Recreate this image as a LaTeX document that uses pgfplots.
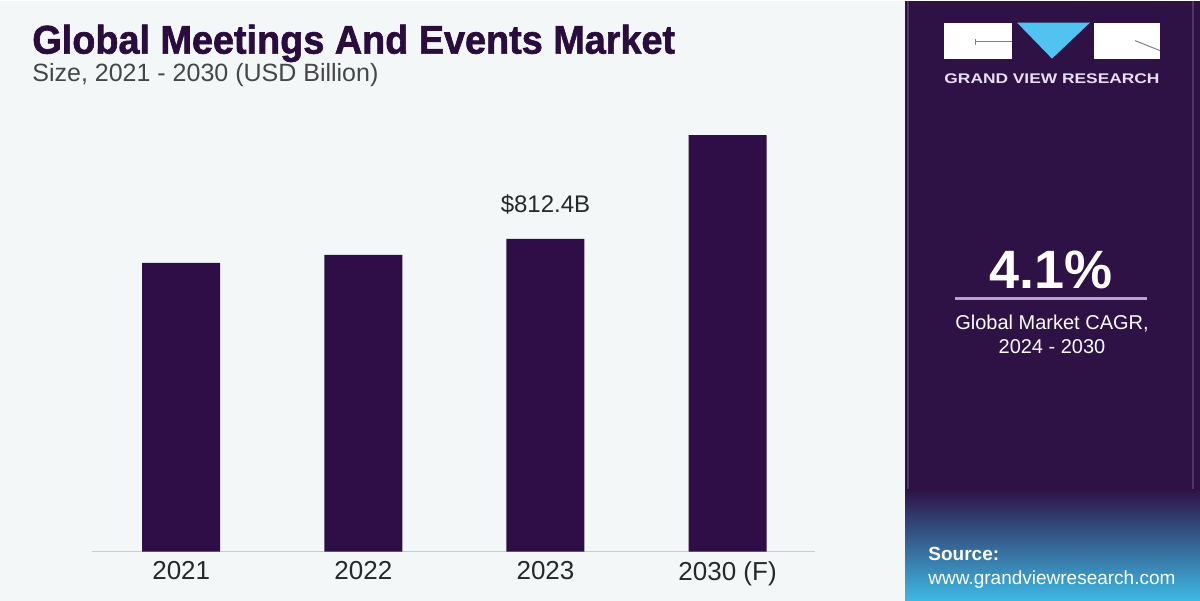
\documentclass[border=0pt]{standalone}
\usepackage{pgfplots}
\pgfplotsset{compat=1.18}
\usepackage{fontspec}
\setmainfont{Liberation Sans}
\newfontfamily\titlefont{Liberation Sans}[BoldFeatures={FakeBold=1.6}]
\usetikzlibrary{shadings}

\definecolor{panelbg}{RGB}{244,247,247}
\definecolor{darkpanel}{RGB}{46,17,69}
\definecolor{barc}{RGB}{47,13,70}
\definecolor{titlec}{RGB}{42,13,62}
\definecolor{subc}{RGB}{70,70,70}
\definecolor{tickc}{RGB}{40,40,40}
\definecolor{axisc}{RGB}{200,204,204}
\definecolor{logoblue}{RGB}{80,195,240}
\definecolor{logotext}{RGB}{232,223,240}
\definecolor{cagrline}{RGB}{183,160,216}
\definecolor{edgec}{RGB}{80,55,100}
\definecolor{gradmid}{RGB}{84,110,170}
\definecolor{gradbot}{RGB}{62,185,228}

\begin{document}
\begin{tikzpicture}
% backgrounds, drawn in pixel units (1px = 0.5pt, y down from the top)
\begin{scope}[x=0.5pt, y=-0.5pt, shift={(0pt,300pt)}]
\fill[panelbg] (0,0) rectangle (905,600);
\fill[darkpanel] (905,0) rectangle (1200,600);
\shade[top color=darkpanel, middle color=gradmid, bottom color=gradbot] (905,488) rectangle (1200,600);
\draw[edgec, line width=0.6pt] (908,0) -- (908,488);
\draw[edgec, line width=0.6pt] (1193,0) -- (1193,488);

% title
\node[anchor=base west, inner sep=0, text=titlec, font=\fontsize{20}{24}\selectfont\titlefont\bfseries] at (32,53) {\scalebox{0.945}[1]{Global Meetings And Events Market}};
\node[anchor=base west, inner sep=0, text=subc, font=\fontsize{12.5}{14}\selectfont] at (32,81) {Size, 2021 - 2030 (USD Billion)};

% logo
\fill[white] (944,22) rectangle (1012,58);
\fill[white] (1094,22) rectangle (1160,58);
\fill[logoblue] (1017,22) -- (1090,22) -- (1052,58) -- cycle;
\draw[gray, line width=0.5pt] (975,41) -- (1012,41);
\draw[gray, line width=0.5pt] (975,38) -- (975,44);
\draw[gray, line width=0.5pt] (1135,40) -- (1160,50);
\node[anchor=base, inner sep=0, text=logotext, font=\fontsize{7}{8}\selectfont\bfseries] at (1052,83) {\scalebox{1.24}[1]{GRAND VIEW RESEARCH}};

% CAGR
\node[anchor=base, inner sep=0, text=white, font=\fontsize{27}{30}\selectfont\bfseries] at (1051,288) {4.1\%};
\draw[cagrline, line width=1.5pt] (955,298) -- (1147,298);
\node[anchor=base, inner sep=0, text=white, font=\fontsize{10}{12}\selectfont] at (1052,329) {Global Market CAGR,};
\node[anchor=base, inner sep=0, text=white, font=\fontsize{10}{12}\selectfont] at (1052,353) {2024 - 2030};

% source
\node[anchor=base west, inner sep=0, text=white, font=\fontsize{9.5}{11}\selectfont\bfseries] at (928,560) {Source:};
\node[anchor=base west, inner sep=0, text=white, font=\fontsize{9.5}{11}\selectfont] at (928,584) {www.grandviewresearch.com};
\end{scope}

\begin{axis}[
    at={(46pt,24.5pt)}, anchor=south west,
    scale only axis,
    width=361.5pt, height=231pt,
    xmin=-0.49, xmax=3.48,
    ymin=0, ymax=1200,
    axis x line*=bottom,
    hide y axis,
    x axis line style={draw=axisc, line width=0.8pt, -},
    xtick={0,1,2,3},
    xticklabels={2021,2022,2023,2030 (F)},
    major tick length=0pt,
    xticklabel style={font=\fontsize{13}{15}\selectfont, text=tickc, yshift=-1.5pt},
    ybar, bar width=39pt, bar shift=0pt,
    clip=false,
]
\addplot[fill=barc, draw=none] coordinates {(0,750) (1,771) (2,812.4) (3,1082)};
\node[anchor=south, font=\fontsize{12}{14}\selectfont, text=tickc, yshift=9pt] at (axis cs:2,812.4) {\$812.4B};
\end{axis}
\end{tikzpicture}
\end{document}
